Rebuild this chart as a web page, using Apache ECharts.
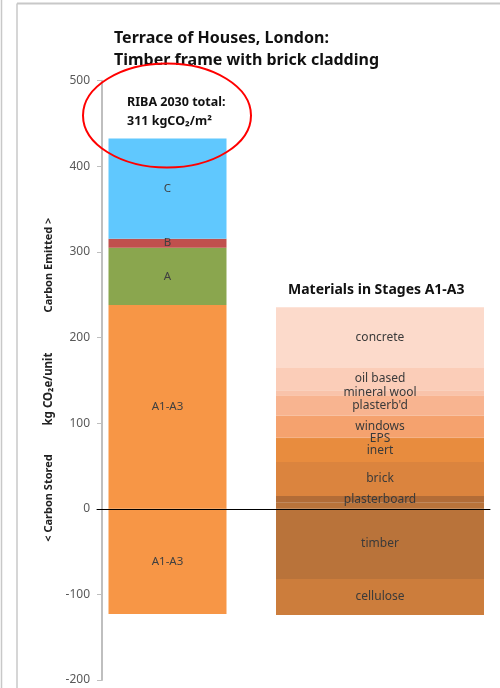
<!DOCTYPE html>
<html>
<head>
<meta charset="utf-8">
<script src="https://cdn.jsdelivr.net/npm/echarts@6/dist/echarts.min.js"></script>
<style>
  html, body { margin: 0; padding: 0; background: #fff; }
  #main { width: 500px; height: 688px; }
</style>
</head>
<body>
<div id="main"></div>
<script>
// left bar: RIBA stages
var stageNames = ['A1-A3', 'A', 'B', 'C'];
var stageVals = [238, 67, 10.5, 117];
var stageColors = ['#F79646', '#8AA64E', '#C0504D', '#60C8FE'];
var storedStage = -123;

// right bar: materials in A1-A3 (bottom to top)
var matNames = ['timber', 'plasterboard', 'brick', 'inert', 'EPS', 'windows', "plasterb'd", 'mineral wool', 'oil based', 'concrete'];
var matVals = [7, 8, 39.5, 27, 1.5, 26, 23.5, 6, 26, 71];
var matColors = ['#B9733A', '#B26C37', '#DB843E', '#E88C3E', '#E98E42', '#F5A26E', '#F8B490', '#F9C3AA', '#FBCDB8', '#FCDACB'];
var storedNames = ['timber', 'cellulose'];
var storedVals = [-82, -42];
var storedColors = ['#B9733A', '#CC7D3C'];

var yTicks = [-200, -100, 0, 100, 200, 300, 400, 500];

var font = 'Noto Sans';
var myChart = echarts.init(document.getElementById('main'));

var series = [];
for (var i = 0; i < stageNames.length; i++) {
    series.push({
        name: stageNames[i], type: 'bar', stack: 'L', xAxisIndex: 0, yAxisIndex: 0,
        barWidth: 118, data: [stageVals[i]],
        itemStyle: { color: stageColors[i] },
        label: { show: true, position: 'inside', formatter: stageNames[i], color: '#404040', fontSize: 11.5, fontFamily: font }
    });
}
series.push({
    name: 'A1-A3', type: 'bar', stack: 'L', xAxisIndex: 0, yAxisIndex: 0,
    barWidth: 118, data: [storedStage],
    itemStyle: { color: stageColors[0] },
    label: { show: true, position: 'inside', formatter: 'A1-A3', color: '#404040', fontSize: 11.5, fontFamily: font }
});
for (var j = 0; j < matNames.length; j++) {
    series.push({
        name: matNames[j], type: 'bar', stack: 'R', xAxisIndex: 1, yAxisIndex: 1,
        barWidth: 208, data: [matVals[j]],
        itemStyle: { color: matColors[j] },
        // positive timber part has no label
        label: { show: j > 0, position: 'inside', formatter: matNames[j], color: '#3a3a3a', fontSize: 12, fontFamily: font }
    });
}
for (var k = 0; k < storedNames.length; k++) {
    series.push({
        name: storedNames[k], type: 'bar', stack: 'R', xAxisIndex: 1, yAxisIndex: 1,
        barWidth: 208, data: [storedVals[k]],
        itemStyle: { color: storedColors[k] },
        label: { show: true, position: 'inside', formatter: storedNames[k], color: '#3a3a3a', fontSize: 12, fontFamily: font }
    });
}

var option = {
    animation: false,
    title: {
        text: 'Terrace of Houses, London:\nTimber frame with brick cladding',
        left: 109, top: 22,
        textStyle: { fontFamily: font, fontSize: 16, fontWeight: 'bold', color: '#111', lineHeight: 22 }
    },
    grid: [
        { left: 102, top: 80.7, bottom: 8, width: 131 },
        { left: 260, top: 80.7, bottom: 8, width: 240 },
        { left: 97, top: 80.7, bottom: 8, right: 10 }
    ],
    xAxis: [
        { type: 'category', gridIndex: 0, data: ['Total'], show: false },
        { type: 'category', gridIndex: 1, data: ['Materials'], show: false },
        { type: 'category', gridIndex: 2, data: [''], z: 10,
          axisLine: { show: true, onZero: true, lineStyle: { color: '#000', width: 1 } },
          axisTick: { show: false }, axisLabel: { show: false } }
    ],
    yAxis: [
        { type: 'value', gridIndex: 0, min: yTicks[0], max: yTicks[yTicks.length - 1], interval: 100,
          axisLine: { show: true, lineStyle: { color: '#BFBFBF', width: 2 } },
          axisTick: { show: true, inside: false, length: 5, lineStyle: { color: '#BFBFBF', width: 1 } },
          axisLabel: { color: '#595959', fontSize: 12, fontFamily: font, margin: 12 },
          splitLine: { show: false } },
        { type: 'value', gridIndex: 1, min: yTicks[0], max: yTicks[yTicks.length - 1], interval: 100, show: false, splitLine: { show: false } },
        { type: 'value', gridIndex: 2, min: yTicks[0], max: yTicks[yTicks.length - 1], interval: 100, show: false, splitLine: { show: false } }
    ],
    graphic: [
        { type: 'line', shape: { x1: 1.5, y1: 0, x2: 1.5, y2: 688 }, style: { stroke: '#C8C8C8', lineWidth: 1.5 } },
        { type: 'line', shape: { x1: 17, y1: 3.5, x2: 17, y2: 688 }, style: { stroke: '#C8C8C8', lineWidth: 1.5 } },
        { type: 'line', shape: { x1: 17, y1: 3.5, x2: 500, y2: 3.5 }, style: { stroke: '#C8C8C8', lineWidth: 2 } },
        { type: 'text', left: 288, top: 283,
          style: { text: 'Materials in Stages A1-A3', font: 'bold 14px "Noto Sans"', fill: '#111' } },
        { type: 'text', left: 127, top: 93,
          style: { text: 'RIBA 2030 total:\n311 kgCO\u2082/m\u00B2', font: 'bold 12.5px "Noto Sans"', fill: '#111', lineHeight: 19 } },
        { type: 'ellipse', shape: { cx: 167, cy: 115.5, rx: 84, ry: 52 }, style: { fill: 'none', stroke: '#FF0000', lineWidth: 2 }, z: 20 },
        { type: 'text', x: 49, y: 265, rotation: Math.PI / 2,
          style: { text: 'Carbon Emitted >', font: 'bold 11px "Noto Sans"', fill: '#222', align: 'center', verticalAlign: 'middle' } },
        { type: 'text', x: 49, y: 389, rotation: Math.PI / 2,
          style: { text: 'kg CO\u2082e/unit', font: 'bold 11.5px "Noto Sans"', fill: '#222', align: 'center', verticalAlign: 'middle' } },
        { type: 'text', x: 49, y: 498, rotation: Math.PI / 2,
          style: { text: '< Carbon Stored', font: 'bold 11px "Noto Sans"', fill: '#222', align: 'center', verticalAlign: 'middle' } }
    ],
    series: series
};
myChart.setOption(option);
</script>
</body>
</html>
